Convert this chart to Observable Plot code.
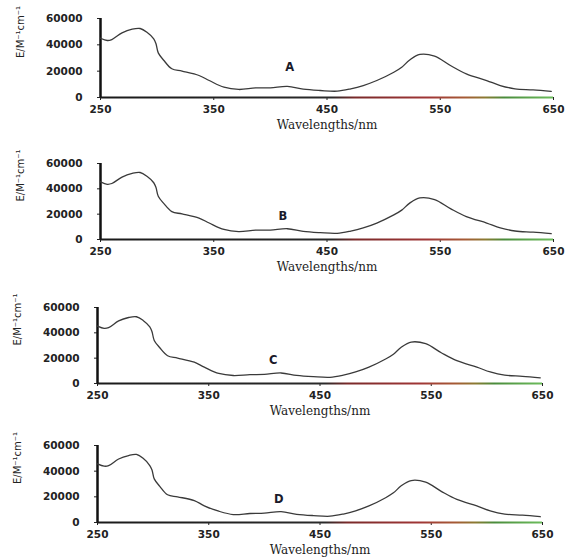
<!DOCTYPE html>
<html>
<head>
<meta charset="utf-8">
<script src="https://cdn.jsdelivr.net/npm/d3@7"></script>
<script src="https://cdn.jsdelivr.net/npm/@observablehq/plot@0.6"></script>
<style>
  html, body { margin: 0; padding: 0; background: #fff; }
  #chart { position: relative; width: 566px; height: 560px; overflow: hidden; }
  #chart svg { position: absolute; left: 0; }
</style>
</head>
<body>
<div id="chart"></div>
<script>
// ---- data ----
const panelNames = ["A", "B", "C", "D"];
const xTicks = [250, 350, 450, 550, 650];
const yTicks = [0, 20000, 40000, 60000];
const wavelengths = [250, 256, 260, 269, 278, 285, 291, 297, 299, 301, 306, 313, 322, 337, 346, 359, 372, 387, 400, 415, 429, 444, 459, 471, 482, 494, 509, 516, 523, 532, 545, 559, 573, 591, 603, 616, 632, 648];
const seriesA = [45000, 43300, 44000, 49100, 51900, 52400, 49600, 44600, 40800, 33900, 28100, 21800, 20000, 16700, 12900, 7800, 6100, 7300, 7300, 8400, 6300, 5300, 4800, 6600, 9100, 12900, 19200, 23000, 28500, 32700, 31400, 24300, 18000, 12900, 9100, 6600, 5800, 4600];
const seriesB = [45500, 43600, 44200, 49300, 52200, 52900, 49900, 44800, 41000, 34200, 28300, 22000, 20200, 16900, 13000, 7900, 6200, 7400, 7400, 8500, 6400, 5400, 4900, 6700, 9200, 13000, 19400, 23200, 28700, 32800, 31500, 24400, 18100, 13000, 9200, 6700, 5800, 4600];
const seriesC = [45300, 43500, 44100, 49400, 52100, 52700, 49800, 44700, 40900, 34000, 28200, 21900, 20100, 16800, 12900, 7900, 6300, 7000, 7200, 8300, 6400, 5400, 4900, 6600, 9100, 12900, 19300, 23100, 28600, 32700, 31400, 24300, 18000, 12900, 9100, 6600, 5700, 4500];
const seriesD = [45700, 43900, 44300, 49500, 52200, 53000, 50000, 44400, 40900, 34000, 28200, 21600, 20000, 17100, 13000, 8800, 6200, 7000, 7300, 8400, 6400, 5400, 4900, 6600, 9100, 12900, 19300, 23100, 28600, 32700, 31400, 24300, 18000, 12900, 9100, 6600, 5700, 4500];
const allSeries = [seriesA, seriesB, seriesC, seriesD];
const xLabel = "Wavelengths/nm";
const yLabel = "E/M\u207B\u00B9cm\u207B\u00B9";
// letter annotation anchor (data units)
const letterX = [417, 411, 408, 413];
const letterY = [22800, 18200, 18200, 17900];

// ---- layout (pixels) ----
const layout = [
  {top: 0,   left: 100, right: 553, y60: 18, y0: 97},
  {top: 140, left: 100, right: 553, y60: 23, y0: 99},
  {top: 280, left: 97,  right: 542, y60: 27, y0: 103},
  {top: 420, left: 97,  right: 542, y60: 25, y0: 102}
];
const H = 140, W = 566;

const gradStops = [
  [250, "#1a1a1a"], [455, "#2a2a2a"], [475, "#7a2a2a"], [540, "#a03636"],
  [572, "#a65a35"], [590, "#8c7a32"], [607, "#4a8c3c"], [650, "#6cbc5c"]
];

const container = document.getElementById("chart");

panelNames.forEach((name, i) => {
  const L = layout[i];
  const rows = wavelengths.map((w, k) => ({w, v: allSeries[i][k]}));
  const plot = Plot.plot({
    width: W,
    height: H,
    marginLeft: L.left,
    marginRight: W - L.right,
    marginTop: L.y60,
    marginBottom: H - L.y0,
    style: {background: "transparent", fontFamily: "DejaVu Sans", fontSize: "10.5px", fontWeight: "bold", color: "#222"},
    x: {domain: [250, 650], ticks: xTicks, tickSize: 3, tickPadding: 5, tickFormat: d => String(d), label: null},
    y: {domain: [0, 60000], ticks: yTicks, tickSize: 3, tickPadding: 15, tickFormat: d => String(d), label: null},
    marks: [
      Plot.ruleY([0], {x1: 250, x2: 650, stroke: `url(#axgrad${i})`, strokeWidth: 2}),
      Plot.ruleX([250], {y1: 0, y2: 60000, stroke: "#111", strokeWidth: 2.5}),
      Plot.line(rows, {x: "w", y: "v", curve: "catmull-rom", stroke: "#3a3a3a", strokeWidth: 1.3}),
      Plot.text([name], {x: letterX[i], y: letterY[i], text: d => d, fontSize: 11.5, fontWeight: "bold", fill: "#1a1a2a"}),
      Plot.text([xLabel], {frameAnchor: "bottom", dy: 31, text: d => d, fontFamily: "DejaVu Serif", fontSize: 12, fontWeight: "normal", fill: "#222"}),
      Plot.text([yLabel], {frameAnchor: "left", dx: -80, rotate: -90, text: d => d, fontSize: 10, fontWeight: "normal", fill: "#222"})
    ]
  });
  plot.style.top = L.top + "px";
  // gradient for the coloured baseline
  const svg = d3.select(plot);
  const x0 = L.left, x1 = L.right;
  const px = w => x0 + (w - 250) / 400 * (x1 - x0);
  const grad = svg.insert("defs", ":first-child").append("linearGradient")
    .attr("id", `axgrad${i}`)
    .attr("gradientUnits", "userSpaceOnUse")
    .attr("x1", px(250)).attr("x2", px(650)).attr("y1", 0).attr("y2", 0);
  gradStops.forEach(([w, c]) => {
    grad.append("stop").attr("offset", ((w - 250) / 400 * 100) + "%").attr("stop-color", c);
  });
  container.appendChild(plot);
});
</script>
</body>
</html>
